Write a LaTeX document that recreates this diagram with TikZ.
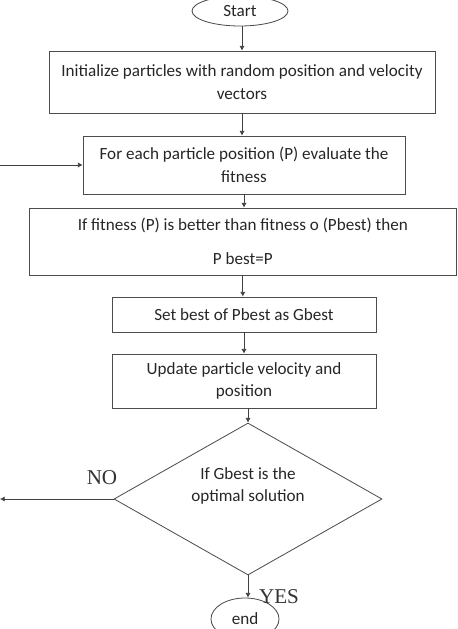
\documentclass[tikz,border=0pt]{standalone}
\usepackage{fontspec}
\setmainfont{Carlito}
\newfontfamily\answerfont{Liberation Serif}
\usetikzlibrary{shapes.geometric,arrows.meta}

\tikzset{
    procbox/.style={draw=black!70, line width=0.7pt, align=center, inner sep=0pt,
        text=black!85, font=\fontsize{14.6}{19.5}\selectfont},
    termnode/.style={procbox, ellipse},
    decide/.style={procbox, diamond},
    flowarrow/.style={draw=black!75, line width=0.7pt, -{Latex[length=4pt,width=4.5pt]}},
    answer/.style={text=black!80, font=\answerfont\fontsize{18}{18}\selectfont}
}

\begin{document}
\begin{tikzpicture}[x=0.03cm,y=-0.03cm]
\useasboundingbox (0,0) rectangle (457,629);
% nodes

\node[termnode, minimum width=2.88cm, minimum height=0.9cm] (start) at (240,11) {Start};
\node[procbox, minimum width=11.58cm, minimum height=1.86cm] (init) at (242,82)
    {Initialize particles with random position and velocity\\ vectors};
\node[procbox, minimum width=9.66cm, minimum height=1.74cm] (fit) at (244,165)
    {For each particle position (P) evaluate the\\ fitness};
\node[procbox, minimum width=12.8cm, minimum height=2.01cm] (pbest) at (242.8,241.5)
    {If fitness (P) is better than fitness o (Pbest) then\\[10pt] P best=P};
\node[procbox, minimum width=7.92cm, minimum height=1.05cm] (gbest) at (244,314.5)
    {Set best of Pbest as Gbest};
\node[procbox, minimum width=7.92cm, minimum height=1.62cm] (upd) at (244,381)
    {Update particle velocity and\\ position};
\node[decide, minimum width=8.04cm, minimum height=4.56cm] (dec) at (248,499) {};
\node[procbox, draw=none] (dectext) at (248,486) {If Gbest is the\\ optimal solution};
\node[termnode, minimum width=2.04cm, minimum height=1.26cm] (stop) at (245,619) {end};

\coordinate (noend) at (0,499);
\coordinate (loopin) at (0,165);

\node[answer] (no) at (102,478) {NO};
\node[answer] (yes) at (279,597) {YES};

% connectors
\draw[flowarrow] (start.south -| init.north) -- (init.north);
\draw[flowarrow] (init.south) -- (init.south |- fit.north);
\draw[flowarrow] (fit.south) -- (fit.south |- pbest.north);
\draw[flowarrow] (pbest.south) -- (pbest.south |- gbest.north);
\draw[flowarrow] (gbest.south) -- (gbest.south |- upd.north);
\draw[flowarrow] (dec.north |- upd.south) -- (dec.north);
\draw[flowarrow] (dec.south) -- (dec.south |- stop.north);
\draw[flowarrow] (dec.west) -- (noend);
\draw[flowarrow] (loopin) -- (fit.west);

\end{tikzpicture}
\end{document}
